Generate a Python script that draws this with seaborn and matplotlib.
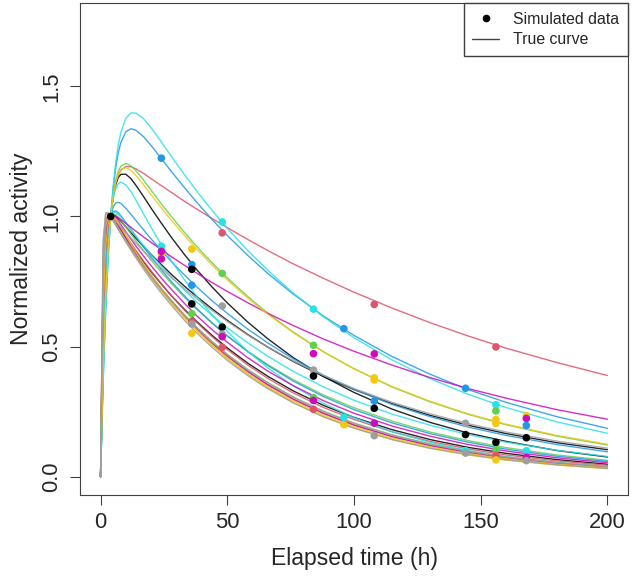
import numpy as np
import pandas as pd
import seaborn as sns
import matplotlib
matplotlib.use("Agg")
import matplotlib.pyplot as plt
from matplotlib.lines import Line2D

# R 4.x default palette
pal = {"black": "#000000", "red": "#DF536B", "green": "#61D04F", "blue": "#2297E6",
       "cyan": "#28E2E5", "magenta": "#CD0BBC", "yellow": "#F5C710", "gray": "#9E9E9E"}

time_h = [0, 1, 2, 3, 4, 5, 6, 7, 8, 10, 12, 14, 17, 20, 24, 28, 33, 38, 44, 50,
          58, 66, 76, 88, 100, 115, 130, 145, 160, 180, 200]

# true curves, normalized activity x 1000
black_a = [0, 416, 695, 880, 1000, 1077, 1123, 1150, 1162, 1162, 1145, 1119, 1076, 1031, 974, 919, 855, 795, 729, 668, 595, 530, 458, 385, 324, 260, 209, 168, 136, 101, 76]
black_b = [0, 628, 876, 969, 1000, 1006, 1001, 992, 982, 960, 937, 916, 884, 854, 815, 777, 733, 692, 645, 601, 547, 498, 443, 385, 335, 281, 236, 198, 166, 131, 104]
black_c = [0, 734, 943, 995, 1000, 991, 977, 963, 948, 919, 891, 864, 825, 787, 740, 695, 644, 596, 543, 495, 437, 386, 330, 274, 228, 181, 143, 113, 90, 66, 48]
red_a = [0, 418, 696, 879, 1000, 1078, 1129, 1160, 1178, 1192, 1191, 1183, 1165, 1145, 1118, 1092, 1059, 1028, 992, 957, 912, 869, 818, 762, 709, 648, 592, 541, 494, 439, 389]
red_b = [0, 815, 984, 1008, 1000, 985, 969, 953, 937, 907, 877, 848, 806, 766, 717, 670, 616, 566, 512, 463, 405, 354, 299, 244, 200, 155, 121, 94, 73, 52, 37]
red_c = [0, 670, 906, 982, 1000, 996, 985, 971, 956, 927, 897, 869, 828, 790, 741, 695, 641, 592, 538, 489, 430, 378, 322, 266, 220, 173, 136, 107, 84, 61, 44]
green_a = [0, 404, 682, 872, 1000, 1085, 1140, 1174, 1193, 1204, 1194, 1175, 1139, 1100, 1048, 999, 940, 884, 822, 764, 693, 628, 556, 480, 415, 345, 288, 240, 200, 156, 122]
green_b = [0, 594, 852, 960, 1000, 1010, 1007, 997, 985, 959, 932, 906, 868, 831, 785, 742, 690, 643, 590, 541, 483, 431, 373, 314, 265, 214, 172, 139, 112, 84, 63]
green_c = [0, 764, 960, 1001, 1000, 988, 973, 957, 942, 911, 882, 853, 812, 773, 723, 677, 623, 574, 520, 471, 413, 362, 307, 252, 206, 161, 126, 98, 77, 55, 40]
blue_a = [0, 370, 645, 849, 1000, 1110, 1189, 1246, 1284, 1326, 1337, 1331, 1306, 1272, 1222, 1172, 1112, 1054, 988, 927, 851, 781, 702, 617, 543, 462, 394, 335, 286, 231, 186]
blue_b = [0, 501, 776, 923, 1000, 1037, 1052, 1054, 1050, 1031, 1008, 984, 948, 913, 869, 826, 776, 729, 676, 628, 568, 514, 453, 390, 336, 278, 231, 191, 159, 124, 96]
blue_c = [0, 554, 821, 946, 1000, 1019, 1021, 1014, 1003, 977, 949, 922, 882, 844, 795, 749, 696, 646, 591, 541, 481, 427, 368, 308, 258, 207, 166, 133, 106, 79, 59]
cyan_a = [0, 357, 631, 841, 1000, 1120, 1209, 1275, 1323, 1378, 1398, 1397, 1375, 1340, 1286, 1230, 1162, 1097, 1023, 954, 870, 793, 706, 614, 534, 449, 377, 317, 266, 211, 167]
cyan_b = [0, 428, 707, 887, 1000, 1069, 1107, 1126, 1132, 1121, 1095, 1062, 1009, 957, 891, 829, 758, 693, 622, 558, 483, 418, 349, 282, 227, 173, 132, 101, 77, 54, 37]
cyan_c = [0, 573, 836, 952, 1000, 1015, 1015, 1008, 998, 974, 949, 924, 888, 853, 809, 767, 718, 671, 620, 572, 515, 463, 405, 345, 294, 241, 198, 162, 133, 102, 78]
magenta_a = [0, 657, 893, 975, 1000, 1004, 1001, 995, 988, 973, 958, 943, 921, 900, 872, 845, 813, 782, 746, 712, 669, 628, 581, 529, 482, 429, 381, 339, 302, 258, 221]
magenta_b = [0, 633, 880, 972, 1000, 1002, 995, 983, 969, 941, 913, 886, 847, 810, 763, 719, 667, 618, 565, 517, 458, 406, 350, 292, 244, 195, 156, 124, 99, 73, 54]
magenta_c = [0, 705, 928, 991, 1000, 992, 978, 962, 947, 915, 884, 855, 812, 772, 721, 674, 619, 568, 513, 464, 405, 353, 298, 243, 198, 154, 119, 92, 71, 51, 36]
yellow_a = [0, 410, 688, 875, 1000, 1081, 1133, 1164, 1181, 1188, 1177, 1157, 1121, 1083, 1033, 985, 928, 874, 813, 756, 687, 624, 554, 479, 415, 347, 290, 242, 202, 159, 125]
yellow_b = [0, 637, 885, 974, 1000, 1000, 989, 975, 959, 926, 893, 862, 817, 775, 722, 672, 615, 562, 505, 454, 394, 342, 286, 231, 187, 143, 109, 84, 64, 45, 31]
yellow_c = [0, 766, 961, 1002, 1000, 987, 971, 955, 939, 907, 877, 847, 804, 764, 713, 666, 611, 561, 506, 456, 397, 346, 292, 237, 193, 149, 115, 89, 69, 49, 35]
gray_a = [0, 779, 963, 1000, 1000, 992, 981, 970, 960, 938, 917, 897, 867, 838, 801, 765, 723, 684, 639, 597, 545, 498, 445, 389, 339, 286, 242, 204, 172, 137, 110]
gray_b = [0, 907, 1014, 1014, 1000, 984, 968, 952, 936, 906, 877, 848, 807, 768, 719, 673, 620, 571, 517, 468, 410, 360, 305, 250, 205, 160, 125, 98, 76, 55, 39]
gray_c = [0, 877, 1007, 1014, 1000, 983, 966, 950, 933, 901, 870, 840, 797, 756, 705, 658, 602, 552, 497, 447, 389, 338, 284, 230, 187, 143, 110, 85, 65, 46, 32]

curves = [("black", black_a), ("black", black_b), ("black", black_c),
          ("red", red_a), ("red", red_b), ("red", red_c),
          ("green", green_a), ("green", green_b), ("green", green_c),
          ("blue", blue_a), ("blue", blue_b), ("blue", blue_c),
          ("cyan", cyan_a), ("cyan", cyan_b), ("cyan", cyan_c),
          ("magenta", magenta_a), ("magenta", magenta_b), ("magenta", magenta_c),
          ("yellow", yellow_a), ("yellow", yellow_b), ("yellow", yellow_c),
          ("gray", gray_a), ("gray", gray_b), ("gray", gray_c)]

# simulated data points
pt_time = [4,
           24, 24, 24, 24, 24,
           36, 36, 36, 36, 36, 36, 36, 36, 36,
           48, 48, 48, 48, 48, 48, 48, 48,
           84, 84, 84, 84, 84, 84, 84, 84,
           96, 96, 96,
           108, 108, 108, 108, 108, 108, 108, 108,
           144, 144, 144, 144, 144,
           156, 156, 156, 156, 156, 156, 156, 156, 156,
           168, 168, 168, 168, 168, 168, 168]
pt_value = [1.0,
            1.224, 0.886, 0.857, 0.866, 0.837,
            0.875, 0.815, 0.797, 0.736, 0.664, 0.627, 0.597, 0.587, 0.551,
            0.979, 0.937, 0.781, 0.656, 0.575, 0.548, 0.538, 0.497,
            0.644, 0.505, 0.473, 0.410, 0.387, 0.304, 0.293, 0.259,
            0.569, 0.228, 0.200,
            0.662, 0.472, 0.380, 0.372, 0.291, 0.263, 0.206, 0.158,
            0.340, 0.205, 0.162, 0.100, 0.091,
            0.499, 0.277, 0.253, 0.220, 0.205, 0.132, 0.104, 0.082, 0.065,
            0.235, 0.224, 0.197, 0.150, 0.100, 0.075, 0.062]
pt_color = ["black",
            "blue", "cyan", "yellow", "magenta", "magenta",
            "yellow", "blue", "black", "blue", "black", "green", "red", "gray", "yellow",
            "cyan", "red", "green", "gray", "black", "gray", "magenta", "red",
            "cyan", "green", "magenta", "gray", "black", "green", "magenta", "red",
            "blue", "cyan", "yellow",
            "red", "magenta", "yellow", "yellow", "blue", "black", "magenta", "gray",
            "blue", "gray", "black", "cyan", "gray",
            "red", "cyan", "green", "yellow", "yellow", "black", "green", "red", "yellow",
            "yellow", "magenta", "blue", "black", "cyan", "magenta", "gray"]

# long table for seaborn
rows = []
for i, (col, vals) in enumerate(curves):
    for t, v in zip(time_h, vals):
        rows.append({"t": t, "v": v / 1000, "id": i})
df = pd.DataFrame(rows)
pts = pd.DataFrame({"t": pt_time, "v": pt_value, "col": pt_color})

sns.set_style("white")
plt.rcParams["font.family"] = ["Liberation Sans", "DejaVu Sans"]

fig = plt.figure(figsize=(6.33, 5.76), dpi=100)
ax = fig.add_axes([80.3 / 633, 81 / 576, (627.7 - 80.3) / 633, (573 - 81) / 576])
sns.lineplot(data=df, x="t", y="v", hue="id", palette=[pal[c] for c, _ in curves],
             legend=False, sort=False, lw=1.0, alpha=0.85, ax=ax)
sns.scatterplot(data=pts, x="t", y="v", hue="col", palette=pal, legend=False,
                s=30, linewidth=0, ax=ax, zorder=3)

ax.set_xlim(-8, 208)
ax.set_ylim(-0.07, 1.82)
ax.set_xticks([0, 50, 100, 150, 200])
ax.set_yticks([0.0, 0.5, 1.0, 1.5])
ax.set_yticklabels(["0.0", "0.5", "1.0", "1.5"], rotation=90, va="center")
ax.tick_params(axis="both", labelsize=15.8, length=7.2, width=0.8, color="#404040",
               direction="out", bottom=True, left=True)
ax.tick_params(axis="x", pad=5)
ax.tick_params(axis="y", pad=6)
for s in ax.spines.values():
    s.set_color("#404040")
    s.set_linewidth(0.8)
ax.set_xlabel("Elapsed time (h)", fontsize=16.6, labelpad=10)
ax.set_ylabel("Normalized activity", fontsize=16.6, labelpad=6)

handles = [Line2D([], [], marker="o", color="black", ls="none", markersize=4.5),
           Line2D([], [], color="#444444", lw=1.0)]
ax.legend(handles, ["Simulated data", "True curve"], loc="upper right",
          bbox_to_anchor=(1, 1), borderaxespad=0, fontsize=11.4, frameon=True,
          fancybox=False, edgecolor="#404040", framealpha=1, handlelength=1.7,
          handletextpad=0.85, borderpad=0.55, labelspacing=0.35)

fig.savefig("out.png", dpi=100)
